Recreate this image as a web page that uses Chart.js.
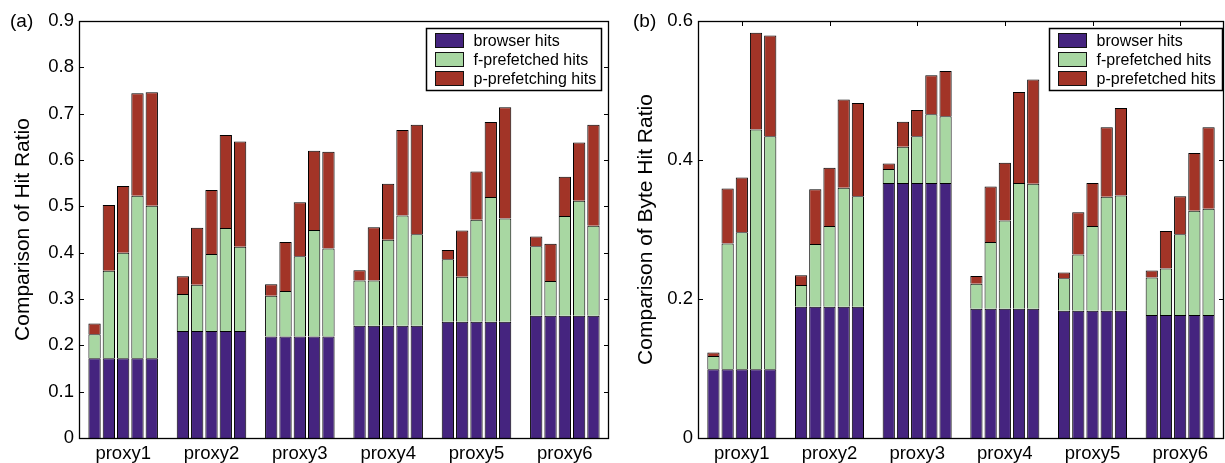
<!DOCTYPE html>
<html>
<head>
<meta charset="utf-8">
<script src="https://cdn.jsdelivr.net/npm/chart.js@4.4.1/dist/chart.umd.min.js"></script>
<style>
  html, body { margin: 0; padding: 0; background: #fff; overflow: hidden; }
  #chartA { position: absolute; left: 0; top: 0; }
  #chartB { position: absolute; left: 623px; top: 0; }
</style>
</head>
<body>
<canvas id="chartA" width="612" height="463"></canvas>
<canvas id="chartB" width="602" height="463"></canvas>
<script>
// categories
const proxies = ['proxy1', 'proxy2', 'proxy3', 'proxy4', 'proxy5', 'proxy6'];

// (a) hit ratio - segment heights, one array per bar in each group
const browserA = [0.172, 0.231, 0.219, 0.242, 0.251, 0.264];
const fPrefA = [
  [0.052, 0.080, 0.088, 0.098, 0.135, 0.150],
  [0.189, 0.100, 0.098, 0.098, 0.097, 0.075],
  [0.228, 0.166, 0.173, 0.186, 0.220, 0.215],
  [0.351, 0.222, 0.230, 0.238, 0.269, 0.248],
  [0.329, 0.182, 0.190, 0.198, 0.223, 0.194]
];
const pPrefA = [
  [0.023, 0.038, 0.025, 0.022, 0.020, 0.021],
  [0.142, 0.123, 0.106, 0.115, 0.100, 0.080],
  [0.144, 0.138, 0.117, 0.121, 0.104, 0.085],
  [0.221, 0.201, 0.171, 0.185, 0.162, 0.126],
  [0.245, 0.227, 0.209, 0.236, 0.240, 0.218]
];

// (b) byte hit ratio
const browserB = [0.099, 0.189, 0.367, 0.186, 0.183, 0.177];
const fPrefB = [
  [0.019, 0.031, 0.020, 0.036, 0.047, 0.054],
  [0.181, 0.090, 0.052, 0.096, 0.081, 0.067],
  [0.197, 0.116, 0.067, 0.127, 0.122, 0.116],
  [0.345, 0.171, 0.099, 0.181, 0.164, 0.150],
  [0.335, 0.159, 0.096, 0.180, 0.166, 0.153]
];
const pPrefB = [
  [0.005, 0.014, 0.008, 0.011, 0.008, 0.010],
  [0.079, 0.079, 0.036, 0.080, 0.061, 0.054],
  [0.079, 0.084, 0.038, 0.083, 0.062, 0.055],
  [0.139, 0.127, 0.056, 0.131, 0.100, 0.083],
  [0.145, 0.134, 0.065, 0.150, 0.126, 0.117]
];

const namesA = ['browser hits', 'f-prefetched hits', 'p-prefetching hits'];
const namesB = ['browser hits', 'f-prefetched hits', 'p-prefetched hits'];
const yTicksA = [0, 0.1, 0.2, 0.3, 0.4, 0.5, 0.6, 0.7, 0.8, 0.9];
const yTicksB = [0, 0.2, 0.4, 0.6];

const colors = ['#45247f', '#a8d7a2', '#a23427'];
const FONT = "'Liberation Sans', Arial, Helvetica, sans-serif";

function buildDatasets(browser, fPref, pPref, names) {
  const sets = [];
  for (let k = 0; k < 5; k++) {
    [browser, fPref[k], pPref[k]].forEach((d, i) => {
      sets.push({
        label: names[i],
        data: d,
        backgroundColor: colors[i],
        borderColor: '#000',
        borderWidth: 1,
        stack: 'bar' + k
      });
    });
  }
  return sets;
}

// frame, inward ticks, panel letter and boxed legend
const framePlugin = {
  id: 'frame',
  afterDraw(chart, args, opts) {
    const { ctx, chartArea: a, scales: { x, y } } = chart;
    ctx.save();
    ctx.strokeStyle = '#000';
    ctx.lineWidth = 1;
    const line = (x1, y1, x2, y2) => {
      ctx.beginPath(); ctx.moveTo(x1, y1); ctx.lineTo(x2, y2); ctx.stroke();
    };
    y.ticks.forEach((t, i) => {
      const py = Math.round(y.getPixelForTick(i)) + 0.5;
      line(a.left, py, a.left + 5, py);
      line(a.right - 5, py, a.right, py);
    });
    if (opts.topTicks) {
      x.ticks.forEach((t, i) => {
        const px = Math.round(x.getPixelForTick(i)) + 0.5;
        line(px, a.top, px, a.top + 5);
      });
    }
    ctx.lineWidth = 1.3;
    ctx.strokeRect(Math.round(a.left) + 0.5, Math.round(a.top) + 0.5,
      Math.round(a.width) - 1, Math.round(a.height));

    // panel letter
    ctx.fillStyle = '#000';
    ctx.font = '19px ' + FONT;
    ctx.textBaseline = 'middle';
    ctx.textAlign = 'left';
    ctx.fillText(opts.letter, 10, 22);

    // legend
    const bw = opts.boxWidth, bh = 62;
    const bx = Math.round(a.right - opts.boxRight - bw) + 0.5;
    const by = Math.round(a.top + 7) + 0.5;
    ctx.fillStyle = '#fff';
    ctx.fillRect(bx, by, bw, bh);
    ctx.lineWidth = 1.5;
    ctx.strokeRect(bx, by, bw, bh);
    ctx.font = '16px ' + FONT;
    ctx.lineWidth = 1;
    opts.names.forEach((n, i) => {
      const cy = by + 12 + i * 19;
      ctx.fillStyle = colors[i];
      ctx.fillRect(bx + 9, cy - 7, 28, 14);
      ctx.strokeStyle = '#111';
      ctx.strokeRect(bx + 9, cy - 7, 28, 14);
      ctx.fillStyle = '#000';
      ctx.fillText(n, bx + 47, cy + 1);
    });
    ctx.restore();
  }
};

function makeChart(id, datasets, yTicks, yMax, yTitle, yWidth, padRight, frameOpts) {
  return new Chart(document.getElementById(id), {
    type: 'bar',
    data: { labels: proxies, datasets: datasets },
    plugins: [framePlugin],
    options: {
      responsive: false,
      animation: false,
      categoryPercentage: 0.81,
      barPercentage: 0.86,
      layout: { padding: { top: 21, right: padRight, left: 0, bottom: 0 } },
      plugins: {
        legend: { display: false },
        tooltip: { enabled: false },
        frame: frameOpts
      },
      scales: {
        x: {
          stacked: true,
          grid: { display: false, drawTicks: false },
          border: { display: false },
          ticks: { color: '#000', font: { family: FONT, size: 18.5 }, padding: 5 },
          afterFit(s) { s.height = 25; }
        },
        y: {
          stacked: true,
          min: 0,
          max: yMax,
          grid: { display: false, drawTicks: false },
          border: { display: false },
          afterBuildTicks(s) { s.ticks = yTicks.map(v => ({ value: v })); },
          ticks: {
            color: '#000',
            font: { family: FONT, size: 18.5 },
            padding: 5,
            callback: v => String(+v.toFixed(1))
          },
          title: {
            display: true,
            text: yTitle,
            color: '#000',
            font: { family: FONT, size: 21 },
            padding: { top: 11, bottom: 0 }
          },
          afterFit(s) { s.width = yWidth; }
        }
      }
    }
  });
}

makeChart('chartA', buildDatasets(browserA, fPrefA, pPrefA, namesA), yTicksA, 0.9,
  'Comparison of Hit Ratio', 79, 3,
  { letter: '(a)', names: namesA, boxWidth: 175, boxRight: 8, topTicks: false });

makeChart('chartB', buildDatasets(browserB, fPrefB, pPrefB, namesB), yTicksB, 0.6,
  'Comparison of Byte Hit Ratio', 75, 1,
  { letter: '(b)', names: namesB, boxWidth: 173, boxRight: 2, topTicks: true });
</script>
</body>
</html>
